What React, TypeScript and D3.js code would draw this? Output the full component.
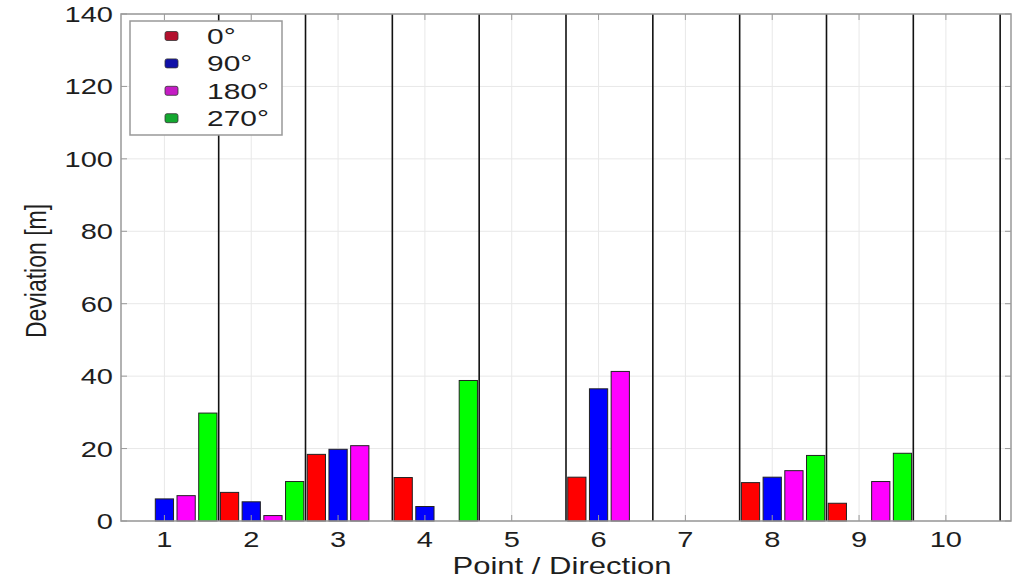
import React from 'react';
import * as d3 from 'd3';

// Deviation per point, one array per direction (0 = no bar)
const points = [1, 2, 3, 4, 5, 6, 7, 8, 9, 10];
const dir0 = [0, 7.9, 18.4, 12.0, 0, 12.1, 0, 10.6, 4.9, 0];
const dir90 = [6.1, 5.3, 19.8, 4.0, 0, 36.5, 0, 12.1, 0, 0];
const dir180 = [7.0, 1.5, 20.8, 0, 0, 41.3, 0, 13.9, 10.9, 0];
const dir270 = [29.8, 10.9, 0, 38.8, 0, 0, 0, 18.1, 18.7, 0];
const yTicks = [0, 20, 40, 60, 80, 100, 120, 140];
const seriesNames = ['0°', '90°', '180°', '270°'];

const series = [dir0, dir90, dir180, dir270];
const barColors = ['#ff0000', '#0000ff', '#ff00ff', '#00ff00'];
const legendColors = ['#b3102e', '#1010a8', '#c41cc4', '#14a830'];

const W = 1023, H = 578;
const margin = { top: 14, right: 12, bottom: 57, left: 121 };
const SX = 1.32; // the reference text is stretched sideways
const FONT = 'Liberation Sans, Arial, Helvetica, sans-serif';

const App = () => {
  const x = d3.scaleLinear().domain([0.5, 10.75]).range([margin.left, W - margin.right]);
  const y = d3.scaleLinear().domain([0, 140]).range([H - margin.bottom, margin.top]);
  const offsets = [-0.25, 0, 0.25, 0.5];
  const barW = x(0.21) - x(0);
  const x0 = margin.left, x1 = W - margin.right, y0 = y(0), y1 = y(140);

  const stretched = (tx: number, ty: number, sx = SX, extra = '') =>
    `translate(${tx},${ty}) scale(${sx},1)${extra}`;

  return (
    <svg width={W} height={H} style={{ position: 'absolute', left: 0, top: 0 }} fontFamily={FONT}>
      <rect width={W} height={H} fill="#fff" />
      {/* grid */}
      <g stroke="#e8e8e8" strokeWidth={1}>
        {points.map(p => <line key={'gx' + p} x1={x(p)} x2={x(p)} y1={y0} y2={y1} />)}
        {yTicks.map(t => <line key={'gy' + t} x1={x0} x2={x1} y1={y(t)} y2={y(t)} />)}
      </g>
      {/* group separators */}
      <g stroke="#111" strokeWidth={1.6}>
        {points.map(p => <line key={'s' + p} x1={x(p + 0.625)} x2={x(p + 0.625)} y1={y0} y2={y1} />)}
      </g>
      {/* bars */}
      {series.map((vals, k) => (
        <g key={'b' + k} fill={barColors[k]} stroke="#222" strokeWidth={1}>
          {vals.map((v, i) => v > 0 ? (
            <rect key={i} x={x(points[i] + offsets[k]) - barW / 2} y={y(v)} width={barW} height={y0 - y(v)} />
          ) : null)}
        </g>
      ))}
      {/* axes box + ticks */}
      <rect x={x0} y={y1} width={x1 - x0} height={y0 - y1} fill="none" stroke="#999" strokeWidth={1.5} />
      <g stroke="#999" strokeWidth={1}>
        {points.map(p => (
          <g key={'tx' + p}>
            <line x1={x(p)} x2={x(p)} y1={y0} y2={y0 - 6} />
            <line x1={x(p)} x2={x(p)} y1={y1} y2={y1 + 6} />
          </g>
        ))}
        {yTicks.map(t => (
          <g key={'ty' + t}>
            <line x1={x0} x2={x0 + 6} y1={y(t)} y2={y(t)} />
            <line x1={x1} x2={x1 - 6} y1={y(t)} y2={y(t)} />
          </g>
        ))}
      </g>
      {/* tick labels */}
      <g fontSize={22} fill="#1e1e1e">
        {points.map(p => (
          <text key={'lx' + p} transform={stretched(x(p), 547)} textAnchor="middle">{p}</text>
        ))}
        {yTicks.map(t => (
          <text key={'ly' + t} transform={stretched(x0 - 8, y(t) + 8)} textAnchor="end">{t}</text>
        ))}
      </g>
      {/* axis titles */}
      <text transform={stretched(562, 574, 1.35)} textAnchor="middle" fontSize={23} fill="#1e1e1e">Point / Direction</text>
      <text transform={stretched(46, 271, SX, ' rotate(-90)')} textAnchor="middle" fontSize={23} fill="#1e1e1e">Deviation [m]</text>
      {/* legend */}
      <g>
        <rect x={130} y={21} width={152} height={114} fill="#fff" stroke="#999" strokeWidth={1.5} />
        {seriesNames.map((name, k) => {
          const ly = 36 + k * 27.4;
          return (
            <g key={'lg' + k}>
              <rect x={165} y={ly - 4.5} width={13} height={9} rx={2} fill={legendColors[k]} stroke="#333" strokeWidth={0.8} />
              <text transform={stretched(207, ly + 8, 1.36)} fontSize={22} fill="#1e1e1e">{name}</text>
            </g>
          );
        })}
      </g>
    </svg>
  );
};

export default App;
